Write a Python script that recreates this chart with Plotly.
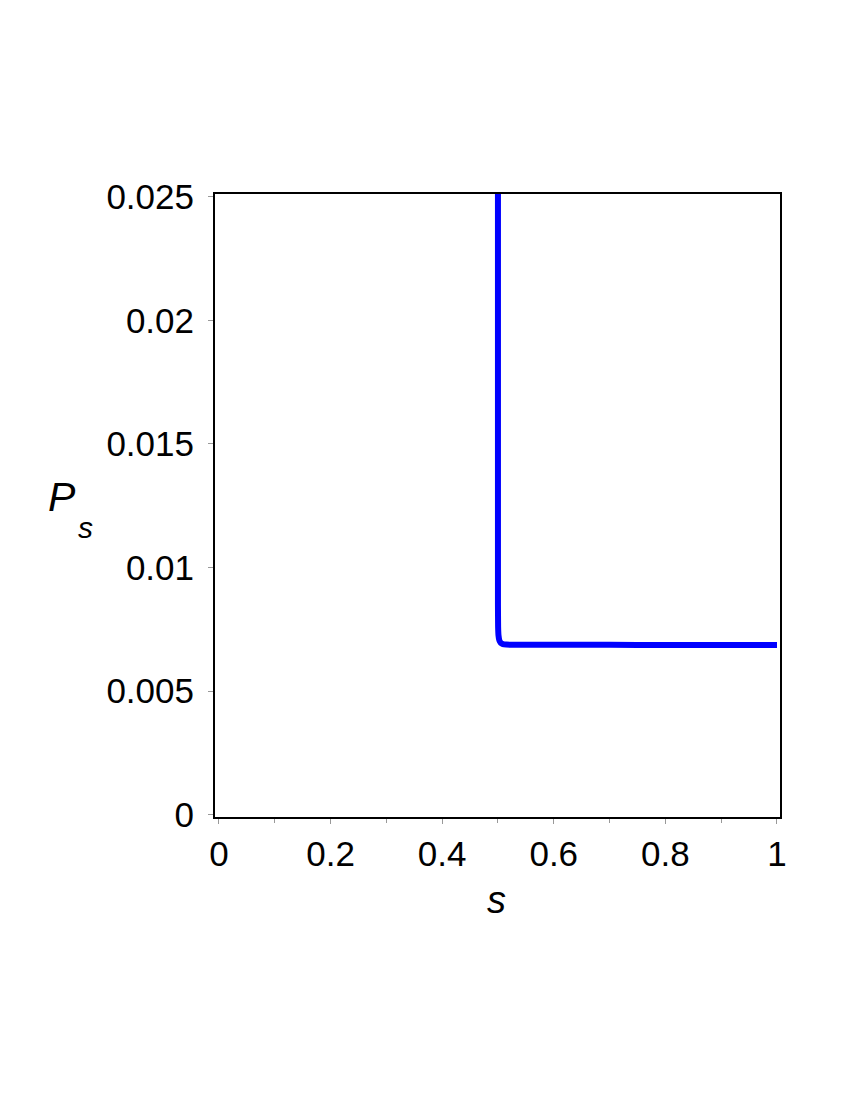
import plotly.graph_objects as go

# curve P_s(s)
s_vals = [0.5, 0.5, 0.5003, 0.501, 0.5025, 0.505, 0.509, 0.515, 0.53, 0.6, 0.7, 0.8, 0.9, 1.0]
ps_vals = [0.0254, 0.0085, 0.0076, 0.00725, 0.00705, 0.00695, 0.0069, 0.00688, 0.00687,
           0.00687, 0.00687, 0.00686, 0.00686, 0.00686]

x_ticks = [0, 0.2, 0.4, 0.6, 0.8, 1]
x_labels = ["0", "0.2", "0.4", "0.6", "0.8", "1"]
y_ticks = [0, 0.005, 0.01, 0.015, 0.02, 0.025]
y_labels = ["0", "0.005", "0.01", "0.015", "0.02", "0.025"]

FONT = "Liberation Sans, Arial, sans-serif"

fig = go.Figure()
fig.add_trace(
    go.Scatter(
        x=s_vals,
        y=ps_vals,
        mode="lines",
        line={"color": "#0000ff", "width": 6, "shape": "spline", "smoothing": 0.3},
        showlegend=False,
    )
)

axis_common = dict(
    showline=True,
    linecolor="black",
    linewidth=2,
    mirror=True,
    showgrid=False,
    zeroline=False,
    ticks="outside",
    ticklen=5,
    tickcolor="#999999",
    tickwidth=1,
    tickfont={"family": FONT, "size": 35, "color": "black"},
)

fig.update_xaxes(
    range=[-0.007, 1.0054],
    tickvals=x_ticks,
    ticktext=x_labels,
    minor={"dtick": 0.1, "ticks": "outside", "ticklen": 4, "tickcolor": "#999999"},
    **axis_common,
)
fig.update_yaxes(
    range=[-0.0001, 0.02512],
    tickvals=y_ticks,
    ticktext=y_labels,
    ticklabelstandoff=7,
    **axis_common,
)

fig.add_annotation(
    text="<i>s</i>", x=0.499, y=-0.133, xref="paper", yref="paper",
    xanchor="center", yanchor="middle",
    showarrow=False, font={"family": FONT, "size": 38, "color": "black"},
)
fig.add_annotation(
    text="<i>P</i>", x=-0.271, y=0.514, xref="paper", yref="paper",
    xanchor="center", yanchor="middle",
    showarrow=False, font={"family": FONT, "size": 41, "color": "black"},
)
fig.add_annotation(
    text="<i>s</i>", x=-0.230, y=0.465, xref="paper", yref="paper",
    xanchor="center", yanchor="middle",
    showarrow=False, font={"family": FONT, "size": 30, "color": "black"},
)

fig.update_layout(
    width=850,
    height=1100,
    margin={"l": 207, "r": 78, "t": 186, "b": 291},
    plot_bgcolor="white",
    paper_bgcolor="white",
)

fig.write_html("out.html")
